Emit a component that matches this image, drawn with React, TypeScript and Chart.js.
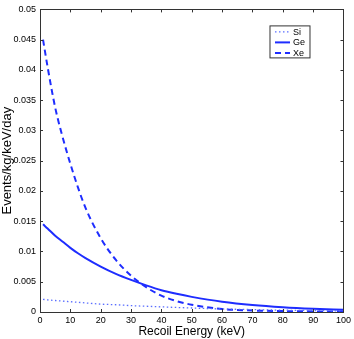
import React, { useEffect, useRef } from "react";
import { Chart, registerables } from "chart.js";

Chart.register(...registerables);

const energies = [1, 2.5, 5, 7.5, 10, 12.5, 15, 20, 25, 30, 35, 40, 45, 50, 60, 70, 80, 90, 100];
const siValues = [0.0021, 0.002, 0.0019, 0.0018, 0.0017, 0.0016, 0.0015, 0.0013, 0.0012, 0.00105, 0.00095, 0.00085, 0.00075, 0.00066, 0.0005, 0.0004, 0.0003, 0.00024, 0.00019];
const geValues = [0.0145, 0.0138, 0.0126, 0.0116, 0.0106, 0.0097, 0.0089, 0.0075, 0.0063, 0.0053, 0.0044, 0.0036, 0.003, 0.0025, 0.0017, 0.00115, 0.00078, 0.00053, 0.00036];
const xeValues = [0.045, 0.0405, 0.0338, 0.0288, 0.0245, 0.0206, 0.0172, 0.0122, 0.0086, 0.006, 0.0041, 0.0027, 0.0018, 0.0012, 0.0005, 0.00025, 0.00015, 0.0001, 0.00008];
const seriesNames = ["Si", "Ge", "Xe"];
const xTicks = [0, 10, 20, 30, 40, 50, 60, 70, 80, 90, 100];
const yTicks = [0, 0.005, 0.01, 0.015, 0.02, 0.025, 0.03, 0.035, 0.04, 0.045, 0.05];

const BLUE = "rgb(30,45,255)";
const FONT = "'Liberation Sans', Arial, sans-serif";

const boxPlugin = {
  id: "matlabBox",
  afterDraw(chart: any) {
    const { ctx, chartArea: a, scales } = chart;
    ctx.save();
    ctx.strokeStyle = "#333";
    ctx.lineWidth = 1;
    ctx.strokeRect(Math.round(a.left) + 0.5, Math.round(a.top) + 0.5, Math.round(a.right - a.left), Math.round(a.bottom - a.top));
    const tl = 3;
    ctx.beginPath();
    for (const v of xTicks) {
      const x = Math.round(scales.x.getPixelForValue(v)) + 0.5;
      ctx.moveTo(x, a.bottom);
      ctx.lineTo(x, a.bottom - tl);
      ctx.moveTo(x, a.top);
      ctx.lineTo(x, a.top + tl);
    }
    for (const v of yTicks) {
      const y = Math.round(scales.y.getPixelForValue(v)) + 0.5;
      ctx.moveTo(a.left, y);
      ctx.lineTo(a.left + tl, y);
      ctx.moveTo(a.right, y);
      ctx.lineTo(a.right - tl, y);
    }
    ctx.stroke();

    // legend
    const bx = a.right - 73.5;
    const by = a.top + 16.5;
    const bw = 40;
    const bh = 32;
    ctx.fillStyle = "#fff";
    ctx.fillRect(bx, by, bw, bh);
    ctx.strokeStyle = "#333";
    ctx.strokeRect(bx, by, bw, bh);
    chart.data.datasets.forEach((ds: any, i: number) => {
      const y = by + 6 + i * 10.5;
      ctx.strokeStyle = ds.borderColor;
      ctx.lineWidth = ds.borderWidth;
      ctx.setLineDash(ds.borderDash || []);
      ctx.beginPath();
      ctx.moveTo(bx + 5, y);
      ctx.lineTo(bx + 20, y);
      ctx.stroke();
      ctx.setLineDash([]);
      ctx.fillStyle = "#000";
      ctx.font = `9px ${FONT}`;
      ctx.textBaseline = "middle";
      ctx.textAlign = "left";
      ctx.fillText(ds.label, bx + 23, y + 0.5);
    });
    ctx.restore();
  },
};

export default function App() {
  const ref = useRef<HTMLCanvasElement | null>(null);
  useEffect(() => {
    document.body.style.margin = "0";
    const mk = (vals: number[]) => energies.map((e, i) => ({ x: e, y: vals[i] }));
    const chart = new Chart(ref.current as HTMLCanvasElement, {
      type: "line",
      data: {
        datasets: [
          { label: seriesNames[0], data: mk(siValues), borderColor: "rgb(90,110,255)", borderWidth: 1.3, borderDash: [1.5, 2.5], pointRadius: 0, cubicInterpolationMode: "monotone", fill: false },
          { label: seriesNames[1], data: mk(geValues), borderColor: BLUE, borderWidth: 2, borderDash: [], pointRadius: 0, cubicInterpolationMode: "monotone", fill: false },
          { label: seriesNames[2], data: mk(xeValues), borderColor: BLUE, borderWidth: 2, borderDash: [6, 4], pointRadius: 0, cubicInterpolationMode: "monotone", fill: false },
        ],
      },
      options: {
        animation: false,
        responsive: false,
        maintainAspectRatio: false,
        layout: { padding: { top: 8, right: 9, left: 0, bottom: 0 } },
        plugins: { legend: { display: false }, tooltip: { enabled: false } },
        scales: {
          x: {
            type: "linear",
            min: 0,
            max: 100,
            afterBuildTicks: (s: any) => { s.ticks = xTicks.map((v) => ({ value: v })); },
            afterFit: (s: any) => { s.height = 27; },
            grid: { display: false, drawTicks: false },
            border: { display: false },
            ticks: { color: "#000", font: { family: FONT, size: 9 }, padding: 3, maxRotation: 0 },
            title: { display: true, text: "Recoil Energy (keV)", color: "#000", font: { family: FONT, size: 12 }, padding: { top: 2, bottom: 0 } },
          },
          y: {
            type: "linear",
            min: 0,
            max: 0.05,
            afterBuildTicks: (s: any) => { s.ticks = yTicks.map((v) => ({ value: v })); },
            afterFit: (s: any) => { s.width = 40; },
            grid: { display: false, drawTicks: false },
            border: { display: false },
            ticks: { color: "#000", font: { family: FONT, size: 9 }, padding: 4, callback: (v: any) => String(Number(v)) },
            title: { display: true, text: "Events/kg/keV/day", color: "#000", font: { family: FONT, size: 13 }, padding: { top: 0, bottom: 0 } },
          },
        },
      },
      plugins: [boxPlugin],
    } as any);
    return () => chart.destroy();
  }, []);
  return (
    <div style={{ width: 354, height: 339, background: "#fff" }}>
      <canvas ref={ref} width={354} height={339} style={{ display: "block", width: 354, height: 339 }} />
    </div>
  );
}
